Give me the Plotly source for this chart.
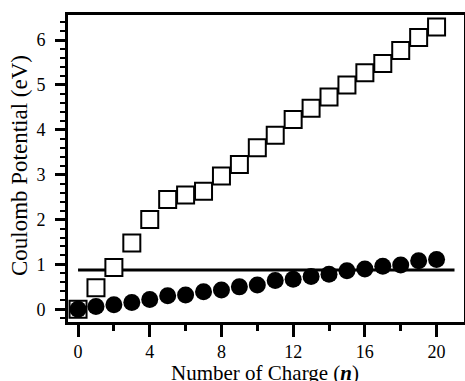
import plotly.graph_objects as go

n_charge = list(range(21))
square_vals = [0.0, 0.48, 0.93, 1.48, 2.0, 2.45, 2.55, 2.63, 2.97, 3.23, 3.60,
               3.88, 4.23, 4.48, 4.73, 5.0, 5.27, 5.48, 5.77, 6.06, 6.29]
circle_vals = [0.0, 0.06, 0.10, 0.15, 0.22, 0.30, 0.32, 0.39, 0.43, 0.50, 0.54,
               0.64, 0.67, 0.73, 0.78, 0.86, 0.90, 0.96, 0.99, 1.08, 1.11]
ref_x = [0, 21]
ref_y = [0.875, 0.875]
x_ticks = [0, 4, 8, 12, 16, 20]
x_minor = [2, 6, 10, 14, 18]
y_ticks = [0, 1, 2, 3, 4, 5, 6]

FONT = "Liberation Serif"

fig = go.Figure()
fig.add_trace(go.Scatter(x=ref_x, y=ref_y, mode="lines",
                         line=dict(color="black", width=3), showlegend=False))
fig.add_trace(go.Scatter(x=n_charge, y=square_vals, mode="markers",
                         marker=dict(symbol="square", size=17, color="white",
                                     line=dict(color="black", width=2)),
                         showlegend=False))
fig.add_trace(go.Scatter(x=n_charge, y=circle_vals, mode="markers",
                         marker=dict(symbol="circle", size=17, color="black",
                                     line=dict(width=0)),
                         showlegend=False))

fig.update_layout(
    template="none",
    width=465, height=381,
    margin=dict(l=68, r=1, t=15, b=59, pad=0, autoexpand=False),
    paper_bgcolor="white", plot_bgcolor="white",
    font=dict(family=FONT, color="black", size=18),
    annotations=[
        dict(text="Number of Charge (<b><i>n</i></b>)", xref="paper", yref="paper",
             x=0.5, y=0, xanchor="center", yanchor="top", yshift=-37, xshift=-1,
             showarrow=False, font=dict(size=21, family=FONT, color="black")),
        dict(text="Coulomb Potential (eV)", xref="paper", yref="paper",
             x=0, y=0.521, xanchor="center", yanchor="middle", xshift=-49, yshift=-4,
             textangle=-90, showarrow=False,
             font=dict(size=23, family=FONT, color="black")),
    ],
)
fig.update_xaxes(
    automargin=False,
    range=[-0.56, 21.53], tickmode="array", tickvals=x_ticks,
    showgrid=False, zeroline=False,
    showline=True, linewidth=3, linecolor="black", mirror=True,
    ticks="outside", ticklen=12, tickwidth=3, tickcolor="black",
    minor=dict(tickvals=x_minor, ticks="outside", ticklen=6, tickwidth=3, tickcolor="black"),
    tickfont=dict(size=18, family=FONT),
    ticklabelstandoff=-1,
)
fig.update_yaxes(
    automargin=False,
    range=[-0.283, 6.56], tickmode="array", tickvals=y_ticks,
    showgrid=False, zeroline=False,
    showline=True, linewidth=3, linecolor="black", mirror=True,
    ticks="outside", ticklen=10, tickwidth=3, tickcolor="black",
    minor=dict(dtick=0.2, tick0=0, ticks="outside", ticklen=5, tickwidth=2, tickcolor="black"),
    tickfont=dict(size=18, family=FONT),
    ticklabelstandoff=6,
)

fig.write_html("out.html",
               config={"displayModeBar": False, "staticPlot": True},
               post_script="document.body.style.margin='0';document.body.style.overflow='hidden';")
